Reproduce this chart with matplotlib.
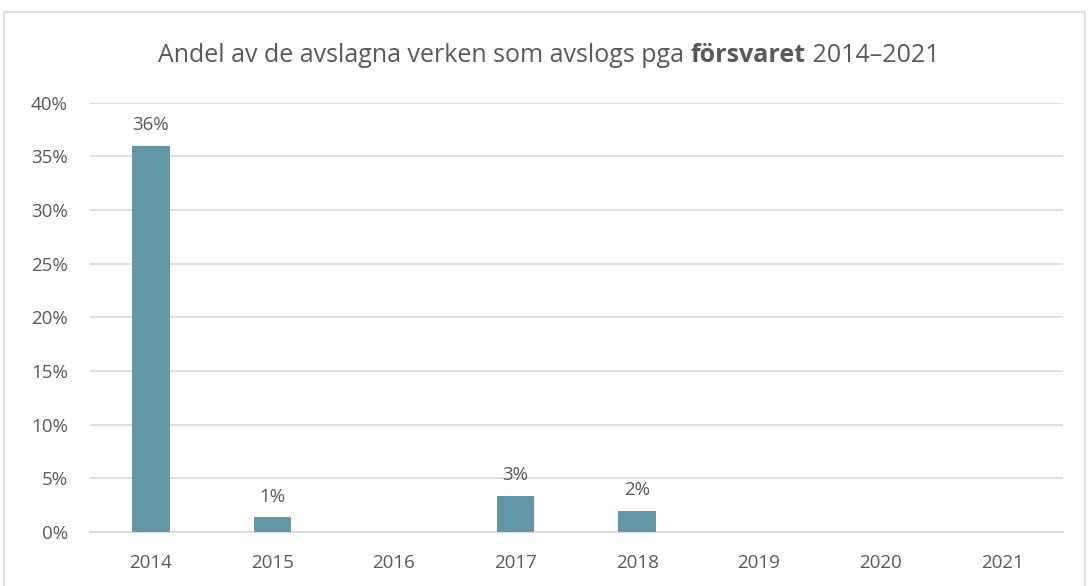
import matplotlib
matplotlib.use("Agg")
import matplotlib.pyplot as plt
from matplotlib.patches import Rectangle
from matplotlib.ticker import MultipleLocator, FuncFormatter

years = ["2014", "2015", "2016", "2017", "2018", "2019", "2020", "2021"]
shares = [36.0, 1.4, 0.0, 3.4, 2.0, 0.0, 0.0, 0.0]
labels = ["36%", "1%", None, "3%", "2%", None, None, None]

title_parts = [("Andel av de avslagna verken som avslogs pga ", "normal"),
               ("försvaret", "bold"),
               (" 2014–2021", "normal")]

plt.rcParams["font.family"] = ["Open Sans", "DejaVu Sans"]
grey = "#595959"
bar_col = "#6497A5"

fig = plt.figure(figsize=(10.89, 5.86), dpi=100)
ax = fig.add_axes([0.0826, 0.092, 0.976 - 0.0826, 0.825 - 0.092])

x = range(len(years))
ax.bar(x, shares, width=0.31, color=bar_col, zorder=3)
for xi, v, lab in zip(x, shares, labels):
    if lab:
        ax.annotate(lab, (xi, v), xytext=(0, 8), textcoords="offset points",
                    ha="center", va="bottom", fontsize=13.5, color=grey)

ax.set_xlim(-0.5, len(years) - 0.5)
ax.set_ylim(0, 40)
ax.yaxis.set_major_locator(MultipleLocator(5))
ax.yaxis.set_major_formatter(FuncFormatter(lambda v, p: f"{v:.0f}%"))
ax.set_xticks(list(x))
ax.set_xticklabels(years)
ax.tick_params(axis="both", length=0, labelsize=13.5, colors=grey)
ax.tick_params(axis="x", pad=16)
ax.tick_params(axis="y", pad=16)
ax.grid(axis="y", color="#D9D9D9", linewidth=1.2, zorder=0)
for s in ["top", "right", "left"]:
    ax.spines[s].set_visible(False)
ax.spines["bottom"].set_color("#D9D9D9")
ax.spines["bottom"].set_linewidth(1.2)

# chart border
fig.patches.append(Rectangle((4 / 1089, -0.01), 1081 / 1089, 1 - 12 / 586 + 0.01,
                             transform=fig.transFigure, fill=False,
                             edgecolor="#D9D9D9", linewidth=1.2))

# title with bold word, drawn piece by piece and centred
fig.canvas.draw()
r = fig.canvas.get_renderer()
texts = []
for s, w in title_parts:
    t = fig.text(0, 1 - 55 / 586, s, fontsize=18, fontweight=w, color=grey,
                 va="center", ha="left")
    texts.append(t)
widths = [t.get_window_extent(r).width for t in texts]
total = sum(widths)
x0 = (549 - total / 2)
for t, w in zip(texts, widths):
    t.set_x(x0 / 1089)
    x0 += w

fig.savefig("out.png", dpi=100)
